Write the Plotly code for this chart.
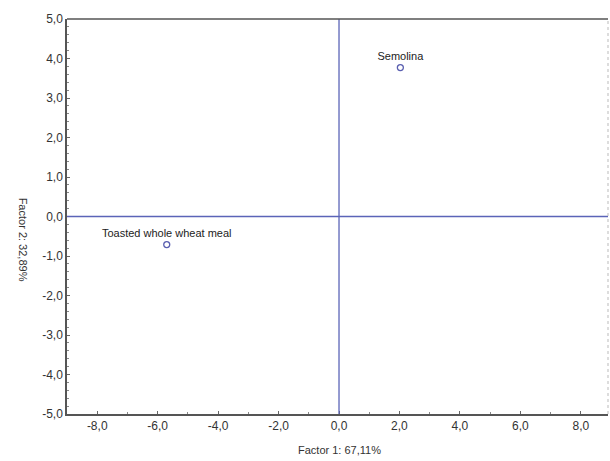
import plotly.graph_objects as go

labels = ["Semolina", "Toasted whole wheat meal"]
factor1 = [2.03, -5.7]
factor2 = [3.77, -0.71]

x_ticks = [-8, -6, -4, -2, 0, 2, 4, 6, 8]
x_ticktext = ["-8,0", "-6,0", "-4,0", "-2,0", "0,0", "2,0", "4,0", "6,0", "8,0"]
y_ticks = [-5, -4, -3, -2, -1, 0, 1, 2, 3, 4, 5]
y_ticktext = ["-5,0", "-4,0", "-3,0", "-2,0", "-1,0", "0,0", "1,0", "2,0", "3,0", "4,0", "5,0"]

x_title = "Factor 1: 67,11%"
y_title = "Factor 2: 32,89%"

FONT = "Liberation Sans, Arial"

fig = go.Figure()
fig.add_trace(go.Scatter(
    x=factor1, y=factor2, mode="markers+text", text=labels,
    textposition="top center",
    textfont=dict(family=FONT, size=11, color="#222"),
    marker=dict(symbol="circle-open", size=6, color="#5a5fb0", line=dict(width=1.3)),
    showlegend=False, cliponaxis=False,
))

line_col = "#5b64b8"
fig.add_shape(type="line", xref="x", yref="paper", x0=0, x1=0, y0=0, y1=1,
              line=dict(color=line_col, width=1.3))
fig.add_shape(type="line", xref="paper", yref="y", x0=0, x1=1, y0=0, y1=0,
              line=dict(color=line_col, width=1.3))
fig.add_shape(type="line", xref="paper", yref="paper", x0=1, x1=1, y0=0, y1=1,
              line=dict(color="#bbbbbb", width=1, dash="dot"))
fig.add_shape(type="line", xref="paper", yref="paper", x0=0, x1=1, y0=1, y1=1,
              line=dict(color="#555", width=1.5))

axis_common = dict(
    showgrid=False, zeroline=False, showline=True, linecolor="#555", linewidth=1.5,
    ticks="inside", ticklen=3, tickcolor="#666",
    tickfont=dict(family=FONT, size=12, color="#333"),
)

fig.update_layout(
    width=610, height=461,
    margin=dict(l=67, r=2, t=19, b=47),
    paper_bgcolor="white", plot_bgcolor="white",
    xaxis=dict(range=[-9, 8.9], tickmode="array", tickvals=x_ticks, ticktext=x_ticktext,
               minor=dict(ticks="inside", ticklen=2, tickcolor="#888", dtick=1, tick0=0),
               **axis_common),
    yaxis=dict(range=[-5, 5], tickmode="array", tickvals=y_ticks, ticktext=y_ticktext,
               minor=dict(ticks="inside", ticklen=2, tickcolor="#888", dtick=0.2, tick0=0),
               **axis_common),
    font=dict(family=FONT, size=11, color="#333"),
)

fig.add_annotation(text=x_title, xref="x", yref="paper", x=0, y=0, yshift=-36,
                   showarrow=False, yanchor="middle",
                   font=dict(family=FONT, size=11, color="#333"))
fig.add_annotation(text=y_title, xref="paper", yref="paper", x=0, xshift=-52,
                   y=0.33, textangle=90, showarrow=False,
                   font=dict(family=FONT, size=11, color="#333"))

fig.write_html("out.html")
